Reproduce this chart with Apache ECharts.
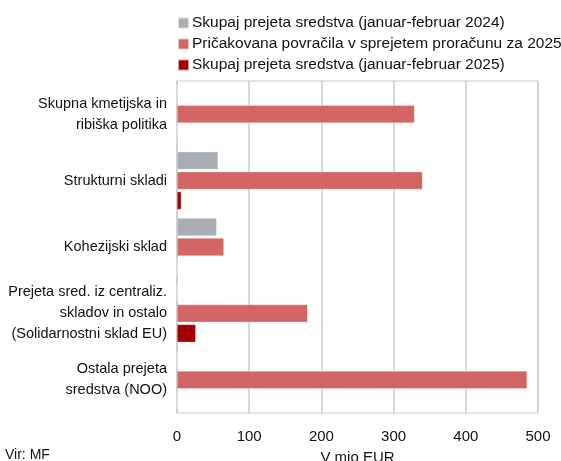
<!DOCTYPE html>
<html>
<head>
<meta charset="utf-8">
<script src="https://cdn.jsdelivr.net/npm/echarts@6/dist/echarts.min.js"></script>
<style>
  html, body { margin: 0; padding: 0; background: #fff; }
  #chart { width: 561px; height: 461px; }
</style>
</head>
<body>
<div id="chart"></div>
<script>
// categories, top to bottom
const categories = [
    'Skupna kmetijska in\nribiška politika',
    'Strukturni skladi',
    'Kohezijski sklad',
    'Prejeta sred. iz centraliz.\nskladov in ostalo\n(Solidarnostni sklad EU)',
    'Ostala prejeta\nsredstva (NOO)'
]
const seriesNames = [
    'Skupaj prejeta sredstva (januar-februar 2024)',
    'Pričakovana povračila v sprejetem proračunu za 2025',
    'Skupaj prejeta sredstva (januar-februar 2025)'
]
// V mio EUR
const received2024 = [0, 57, 55, 0.5, 0]
const expected2025 = [329, 340, 65, 181, 485]
const received2025 = [0, 6, 0, 26, 0]

const colors = ['#a8aeb4', '#d46565', '#a00000']
const font = 'Liberation Sans'

let chart = echarts.init(document.getElementById('chart'))

let mkSeries = (name, data, i) => ({
    name: name,
    type: 'bar',
    data: data,
    barGap: '12%',
    barCategoryGap: '13%',
    itemStyle: {
        color: colors[i],
        borderColor: 'rgba(255,255,255,0.6)',
        borderWidth: 0.5
    }
})

let option = {
    animation: false,
    textStyle: { fontFamily: font },
    legend: {
        orient: 'vertical',
        left: 172,
        top: 10,
        itemWidth: 11,
        itemHeight: 11,
        itemGap: 5,
        icon: 'rect',
        textStyle: { fontSize: 15.5, color: '#111', padding: [0, 0, 0, -2] },
        data: seriesNames
    },
    grid: {
        left: 177,
        right: 23,
        top: 81,
        bottom: 48,
        outerBoundsMode: 'none',
        show: true,
        borderColor: '#cccccc',
        borderWidth: 1
    },
    xAxis: {
        type: 'value',
        min: 0,
        max: 500,
        interval: 100,
        name: 'V mio EUR',
        nameLocation: 'middle',
        nameGap: 37,
        nameTextStyle: { fontSize: 15, color: '#111' },
        axisLine: { show: false },
        axisTick: { show: false },
        axisLabel: { fontSize: 15, color: '#111', margin: 16 },
        splitLine: { lineStyle: { color: '#cccccc', width: 1.5 } }
    },
    yAxis: {
        type: 'category',
        inverse: true,
        data: categories,
        axisLine: { show: true, lineStyle: { color: '#cccccc', width: 1.5 } },
        axisTick: { show: false },
        axisLabel: { fontSize: 14.5, color: '#111', lineHeight: 21, margin: 10, align: 'right' }
    },
    graphic: [{
        type: 'text',
        left: 5,
        top: 448,
        style: { text: 'Vir: MF', fontSize: 14, fill: '#111', fontFamily: font }
    }],
    series: [
        mkSeries(seriesNames[0], received2024, 0),
        mkSeries(seriesNames[1], expected2025, 1),
        mkSeries(seriesNames[2], received2025, 2)
    ]
}

chart.setOption(option)
</script>
</body>
</html>
